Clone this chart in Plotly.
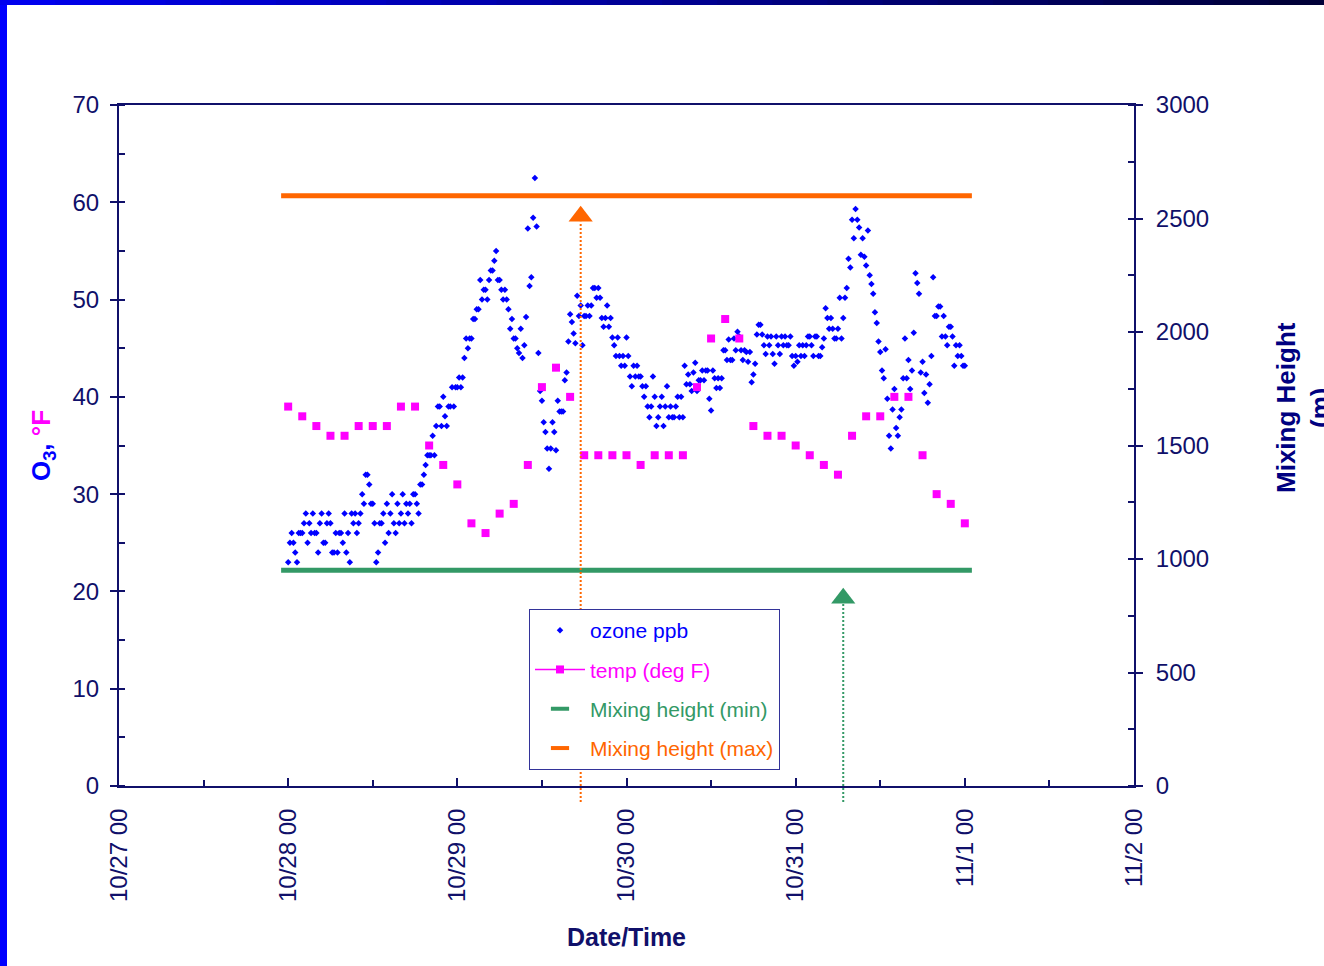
import plotly.graph_objects as go
import pandas as pd

# ---------------- data ----------------
ozone_start = "2003-10-28 00:00"
ozone_freq = "15min"
ozone_ppb = [
    # 10/28 00-06
    23, 25, 26, 25, 24, 23, 26, 26, 26, 27, 28, 25, 27, 26, 28, 26, 26, 24, 27, 28, 25, 25, 27, 28,
    # 10/28 06-12
    27, 24, 24, 26, 24, 26, 26, 25, 28, 24, 26, 23, 28, 27, 28, 26, 27, 28, 30, 29, 32, 32, 31, 29,
    # 10/28 12-18
    29, 27, 23, 24, 27, 27, 28, 25, 29, 26, 28, 30, 27, 26, 29, 27, 28, 30, 27, 29, 28, 29, 27, 30,
    # 10/28 18-24
    30, 29, 28, 31, 31, 32, 33, 34, 34, 34, 36, 34, 37, 39, 39, 37, 40, 38, 37, 39, 39, 41, 39, 41,
    # 10/29 00-06
    41, 42, 41, 42, 44, 46, 45, 46, 46, 48, 48, 49, 49, 52, 50, 51, 51, 50, 52, 53, 53, 54, 55, 52,
    # 10/29 06-12
    52, 51, 50, 51, 50, 49, 47, 48, 46, 46, 45, 44.5, 47, 44, 45.3, 48.2, 57.3, 51.4, 52.3, 58.4,
    62.5, 57.5, 44.5, 40.6,
    # 10/29 12-18
    39.6, 37.4, 36.4, 34.7, 32.6, 34.7, 37.4, 36.4, 34.5, 39.6, 38.5, 38.5, 38.5, 41.7, 42.5, 45.7,
    48.5, 47.7, 46.5, 45.5, 50.4, 48.3, 49.4, 45.3,
    # 10/29 18-24
    48.3, 48.3, 49.4, 48.3, 49.4, 51.2, 51.2, 50.2, 51.2, 50.2, 48.1, 47.2, 48.1, 49.4, 47.2, 48.1,
    46.1, 45.3, 44.2, 46.1, 44.2, 43.2, 44.2, 43.2,
    # 10/30 00-06
    46.1, 44.2, 42.1, 41.1, 43.2, 42.1, 43.2, 42.1, 42.1, 41.1, 40.0, 41.1, 39.0, 37.9, 39.0, 42.1,
    40.0, 37.0, 37.9, 39.0, 40.0, 37.0, 39.0, 41.1,
    # 10/30 06-12
    37.9, 39.0, 37.9, 37.9, 39.0, 40.0, 37.9, 40.0, 37.9, 43.2, 41.3, 42.3, 41.3, 40.6, 42.5, 43.5,
    40.6, 41.7, 41.7, 42.7, 41.7, 42.7, 42.7, 39.8,
    # 10/30 12-18
    38.6, 42.7, 41.9, 40.9, 41.9, 40.9, 41.9, 44.8, 44.8, 43.8, 45.9, 43.8, 43.8, 46.0, 44.8, 46.7,
    46.2, 44.8, 43.8, 44.8, 44.6, 43.6, 44.6, 41.5,
    # 10/30 18-24
    42.3, 43.4, 46.4, 47.4, 47.4, 46.4, 45.3, 44.4, 46.2, 45.3, 46.2, 44.4, 43.4, 46.2, 45.3, 44.4,
    46.2, 45.3, 46.2, 45.3, 45.3, 46.2, 44.2, 43.2,
    # 10/31 00-06
    44.2, 43.6, 45.3, 44.2, 45.3, 44.2, 45.3, 46.2, 46.2, 45.3, 44.2, 46.2, 46.2, 44.2, 44.2, 45.1,
    46.0, 49.1, 48.1, 47.0, 48.1, 47.0, 46.0, 46.0,
    # 10/31 06-12
    47.0, 50.2, 46.0, 48.1, 50.2, 51.2, 54.2, 53.3, 58.2, 56.3, 59.3, 58.2, 57.4, 54.6, 56.3, 54.4,
    53.5, 57.1, 52.5, 51.6, 50.6, 48.7, 47.6, 45.7,
    # 10/31 12-18
    44.6, 42.7, 41.9, 44.9, 39.8, 36.0, 34.7, 38.7, 40.8, 36.8, 36.0, 37.9, 38.7, 41.9, 46.0, 41.9,
    43.8, 40.8, 42.7, 46.6, 52.7, 51.7, 50.6, 42.5,
    # 10/31 18-24
    43.6, 40.4, 42.3, 39.4, 41.3, 44.2, 52.3, 48.3, 48.3, 49.3, 49.3, 46.2, 48.3, 46.2, 45.3, 47.2,
    47.2, 46.2, 43.2, 45.3, 44.2, 45.3, 44.2, 43.2,
    # 11/1 00
    43.2,
]

temp_start = "2003-10-28 00:00"
temp_freq = "2h"
temp_degF = [39, 38, 37, 36, 36, 37, 37, 37, 39, 39, 35, 33, 31, 27, 26, 28, 29, 33,
             41, 43, 40, 34, 34, 34, 34, 33, 34, 34, 34, 41, 46, 48, 46, 37, 36, 36,
             35, 34, 33, 32, 36, 38, 38, 40, 40, 34, 30, 29, 27]

mix_times = ["2003-10-27 23:00", "2003-11-01 01:00"]
mix_min_m = [950, 950]
mix_max_m = [2600, 2600]

arrow_times = ["2003-10-29 17:30", "2003-10-31 06:45"]
arrow_head_m = [2510, 827]          # triangle marker centres, right axis (m)
arrow_base_m = [2486, 805]          # where the dotted stem meets the triangle

day_ticks = ["2003-10-27", "2003-10-28", "2003-10-29", "2003-10-30",
             "2003-10-31", "2003-11-01", "2003-11-02"]
day_labels = ["10/27 00", "10/28 00", "10/29 00", "10/30 00",
              "10/31 00", "11/1 00", "11/2 00"]

Y_MAX = 70
Y2_MAX = 3000

# ---------------- style ----------------
NAVY = "#10106a"
BLUE = "#0000ff"
MAGENTA = "#ff00ff"
GREEN = "#339966"
ORANGE = "#ff6600"
FONT = "Liberation Sans, Arial, sans-serif"

W, H = 1324, 966
ML, MR, MT, MB = 119, 190, 105, 180

ozone_t = pd.date_range(ozone_start, periods=len(ozone_ppb), freq=ozone_freq)
temp_t = pd.date_range(temp_start, periods=len(temp_degF), freq=temp_freq)

fig = go.Figure()

# data traces
fig.add_trace(go.Scatter(x=ozone_t, y=ozone_ppb, mode="markers", yaxis="y",
                         marker=dict(symbol="diamond", size=5, color=BLUE),
                         showlegend=False, hoverinfo="skip"))
fig.add_trace(go.Scatter(x=temp_t, y=temp_degF, mode="markers", yaxis="y",
                         marker=dict(symbol="square", size=8, color=MAGENTA),
                         showlegend=False, hoverinfo="skip"))
fig.add_trace(go.Scatter(x=mix_times, y=mix_min_m, mode="lines", yaxis="y2",
                         line=dict(color=GREEN, width=5), showlegend=False))
fig.add_trace(go.Scatter(x=mix_times, y=mix_max_m, mode="lines", yaxis="y2",
                         line=dict(color=ORANGE, width=5), showlegend=False))

# arrows: dotted stems + triangles
arrow_colors = [ORANGE, GREEN]
for t, base, c in zip(arrow_times, arrow_base_m, arrow_colors):
    fig.add_shape(type="line", xref="x", yref="paper", x0=t, x1=t,
                  y0=-16 / (H - MT - MB), y1=base / Y2_MAX,
                  line=dict(color=c, width=2, dash="2px,2px"))
fig.add_trace(go.Scatter(x=arrow_times, y=arrow_head_m, mode="markers", yaxis="y2",
                         marker=dict(symbol="triangle-up", size=21, color=arrow_colors),
                         showlegend=False, cliponaxis=False, hoverinfo="skip"))

# legend entries
def lg(name, color):
    return f"<span style='color:{color}'>{name}</span>"

fig.add_trace(go.Scatter(x=[None], y=[None], mode="markers", name=lg("ozone ppb", BLUE),
                         marker=dict(symbol="diamond", size=5, color=BLUE), legendgroup="a"))
fig.add_trace(go.Scatter(x=[None], y=[None], mode="lines+markers", name=lg("temp (deg F)", MAGENTA),
                         marker=dict(symbol="square", size=8, color=MAGENTA),
                         line=dict(color=MAGENTA, width=1.5), legendgroup="b"))
fig.add_trace(go.Scatter(x=[None], y=[None], mode="markers", name=lg("Mixing height (min)", GREEN),
                         marker=dict(symbol="line-ew", size=13, line=dict(color=GREEN, width=4)),
                         legendgroup="c"))
fig.add_trace(go.Scatter(x=[None], y=[None], mode="markers", name=lg("Mixing height (max)", ORANGE),
                         marker=dict(symbol="line-ew", size=13, line=dict(color=ORANGE, width=4)),
                         legendgroup="d"))

# slide frame decoration
def px2x(p):
    return (p - ML) / (W - ML - MR)

def px2y(p):
    return (H - MB - p) / (H - MT - MB)

fig.add_shape(type="rect", xref="paper", yref="paper", x0=px2x(0), x1=px2x(7),
              y0=px2y(H), y1=px2y(0), line=dict(width=0), fillcolor="#0000ff", layer="below")
nseg = 24
c0 = (0x00, 0x00, 0xee)
c1 = (0x00, 0x00, 0x38)
for i in range(nseg):
    f = i / (nseg - 1)
    col = "rgb({},{},{})".format(*[round(a + (b - a) * f) for a, b in zip(c0, c1)])
    fig.add_shape(type="rect", xref="paper", yref="paper",
                  x0=px2x(i * W / nseg), x1=px2x((i + 1) * W / nseg + 1),
                  y0=px2y(5), y1=px2y(0), line=dict(width=0), fillcolor=col, layer="below")

# right axis title (placed like the original, running off the slide edge)
fig.add_annotation(text="<b>Mixing Height<br>(m)</b>", xref="paper", yref="paper",
                   x=px2x(1303), y=px2y(408), xanchor="center", yanchor="middle",
                   textangle=-90, showarrow=False,
                   font=dict(family=FONT, size=26, color="#000080"))

tickfont = dict(family=FONT, size=24, color=NAVY)
axis_common = dict(showgrid=False, zeroline=False, showline=True, linecolor=NAVY,
                   linewidth=2, tickfont=tickfont, tickcolor=NAVY, tickwidth=1.5)

fig.update_layout(
    width=W, height=H,
    margin=dict(l=ML, r=MR, t=MT, b=MB),
    paper_bgcolor="white", plot_bgcolor="white",
    font=dict(family=FONT, color=NAVY),
    xaxis=dict(type="date", range=[day_ticks[0], day_ticks[-1]],
               tickmode="array", tickvals=day_ticks, ticktext=day_labels,
               tickangle=-90, ticks="inside", ticklen=8, mirror=True,
               ticklabelstandoff=11,
               minor=dict(ticks="inside", ticklen=6, dtick=12 * 3600 * 1000,
                          tick0=day_ticks[0], tickcolor=NAVY),
               title=dict(text="<b>Date/Time</b>", font=dict(family=FONT, size=25, color=NAVY),
                          standoff=27),
               automargin=False, **axis_common),
    yaxis=dict(range=[0, Y_MAX], dtick=10, ticks="outside", ticklen=7,
               ticklabelstandoff=6,
               minor=dict(ticks="inside", ticklen=6, dtick=5, tickcolor=NAVY),
               title=dict(text="<b><span style='color:#0000ff'>O<sub>3</sub>, </span>"
                               "<span style='color:#ff00ff'>°F</span></b>",
                          font=dict(family=FONT, size=26), standoff=14),
               automargin=False, **axis_common),
    yaxis2=dict(range=[0, Y2_MAX], dtick=500, overlaying="y", side="right",
                ticks="outside", ticklen=7, ticklabelstandoff=8,
                minor=dict(ticks="inside", ticklen=6, dtick=250, tickcolor=NAVY),
                automargin=False, **axis_common),
    legend=dict(x=px2x(529), y=px2y(609), xanchor="left", yanchor="top",
                bgcolor="white", bordercolor="#333399", borderwidth=1,
                font=dict(family=FONT, size=21), traceorder="grouped",
                tracegroupgap=9, itemwidth=50),
)

fig.write_html("out.html", config={"displayModeBar": False},
               post_script="document.body.style.margin='0';document.body.style.overflow='hidden';")
